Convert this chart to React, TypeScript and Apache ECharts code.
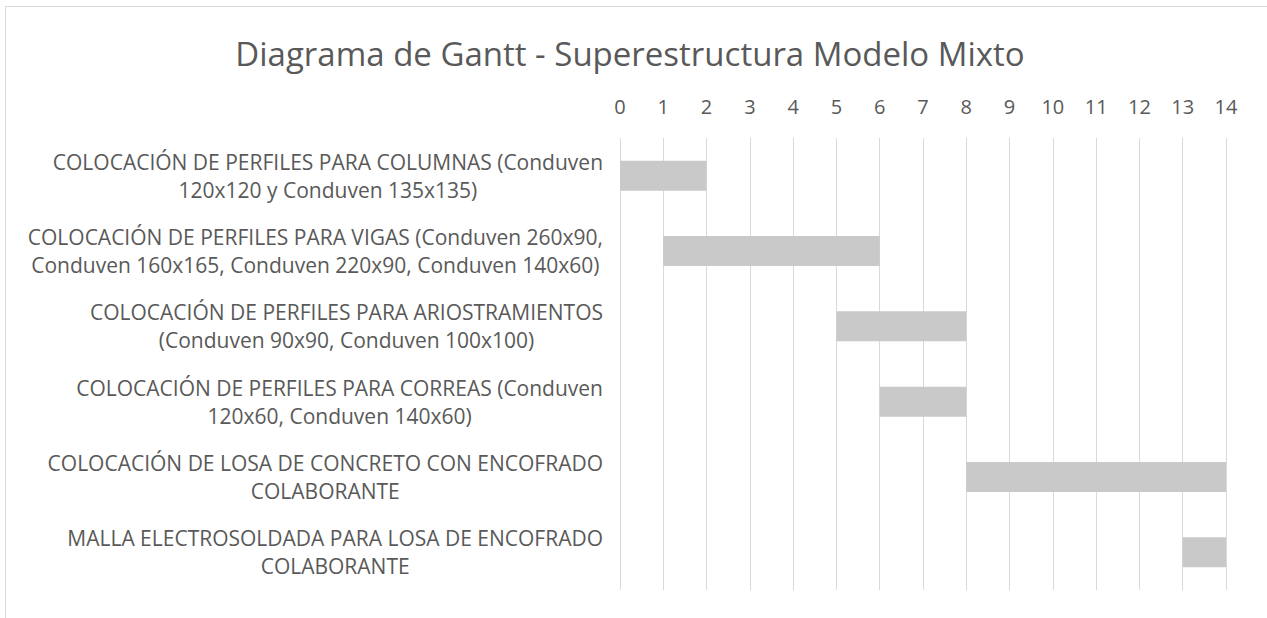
import React, { useEffect, useRef } from "react";
import * as echarts from "echarts";

const title = "Diagrama de Gantt - Superestructura Modelo Mixto";
const tasks = [
  "COLOCACIÓN DE PERFILES PARA COLUMNAS (Conduven 120x120 y Conduven 135x135)",
  "COLOCACIÓN DE PERFILES PARA VIGAS (Conduven 260x90, Conduven 160x165, Conduven 220x90, Conduven 140x60)",
  "COLOCACIÓN DE PERFILES PARA ARIOSTRAMIENTOS (Conduven 90x90, Conduven 100x100)",
  "COLOCACIÓN DE PERFILES PARA CORREAS (Conduven 120x60, Conduven 140x60)",
  "COLOCACIÓN DE LOSA DE CONCRETO CON ENCOFRADO COLABORANTE",
  "MALLA ELECTROSOLDADA PARA LOSA DE ENCOFRADO COLABORANTE",
];
const starts = [0, 1, 5, 6, 8, 13];
const durations = [2, 5, 3, 2, 6, 1];

const TEXT = "#595959";
const FONT = "'Open Sans', 'Noto Sans', sans-serif";

function wrap(s: string, maxChars: number): string[] {
  const words = s.split(" ");
  const lines: string[] = [];
  let cur = "";
  for (const w of words) {
    const next = cur ? cur + " " + w : w;
    if (next.length > maxChars && cur) {
      lines.push(cur);
      cur = w;
    } else {
      cur = next;
    }
  }
  if (cur) lines.push(cur);
  return lines;
}

export default function App() {
  const ref = useRef<HTMLDivElement>(null);
  useEffect(() => {
    document.body.style.margin = "0";
    const chart = echarts.init(ref.current!, undefined, { renderer: "svg" });
    chart.setOption({
      animation: false,
      backgroundColor: "#ffffff",
      title: {
        text: title,
        left: 625,
        textAlign: "center",
        top: 32,
        textStyle: { color: TEXT, fontFamily: FONT, fontSize: 33, fontWeight: "normal" },
      },
      graphic: [
        {
          type: "rect",
          shape: { x: 5.5, y: 6.5, width: 1400, height: 800 },
          style: { fill: "none", stroke: "#d9d9d9", lineWidth: 1 },
          silent: true,
        },
      ],
      grid: { left: 620, right: 41, top: 138, bottom: 28, containLabel: false },
      xAxis: {
        type: "value",
        position: "top",
        min: 0,
        max: 14,
        interval: 1,
        axisLine: { show: false },
        axisTick: { show: false },
        splitLine: { show: true, lineStyle: { color: "#d9d9d9", width: 1 } },
        axisLabel: { color: TEXT, fontFamily: FONT, fontSize: 20, margin: 22 },
      },
      yAxis: {
        type: "category",
        inverse: true,
        data: tasks,
        axisLine: { show: false },
        axisTick: { show: false },
        splitLine: { show: false },
        axisLabel: {
          margin: 17,
          align: "right",
          color: TEXT,
          fontFamily: FONT,
          fontSize: 21,
          lineHeight: 28,
          formatter: (v: string) =>
            wrap(v, 52)
              .map((l) => "{c|" + l + "}")
              .join("\n"),
          rich: {
            c: { align: "center", color: TEXT, fontFamily: FONT, fontSize: 21, lineHeight: 28 },
          },
        },
      },
      series: [
        {
          type: "bar",
          stack: "g",
          data: starts,
          itemStyle: { color: "transparent" },
          silent: true,
          barWidth: 30,
        },
        {
          type: "bar",
          stack: "g",
          data: durations,
          itemStyle: { color: "#c9c9c9" },
          barWidth: 30,
        },
      ],
    });
    return () => chart.dispose();
  }, []);
  return <div ref={ref} style={{ width: 1267, height: 618 }} />;
}
